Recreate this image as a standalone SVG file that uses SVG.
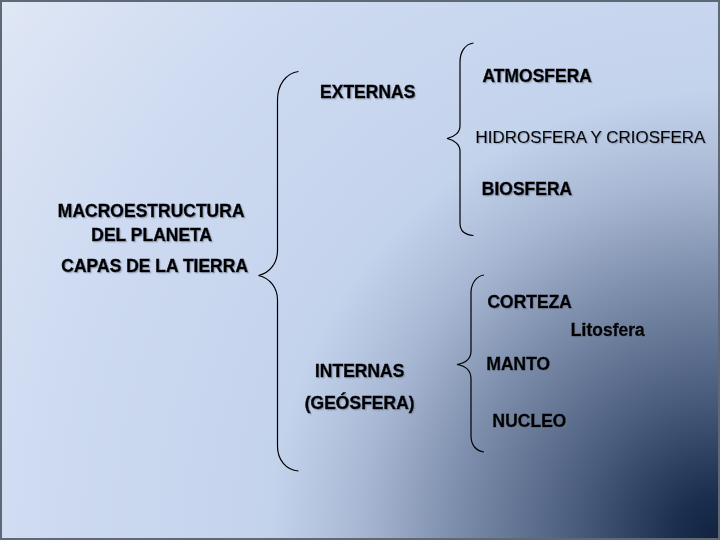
<svg xmlns="http://www.w3.org/2000/svg" width="720" height="540" viewBox="0 0 720 540">
  <defs>
    <radialGradient id="bg" gradientUnits="userSpaceOnUse" cx="720" cy="540" r="900">
      <stop offset="0" stop-color="#10223f"/>
      <stop offset="0.05" stop-color="#1c2e4e"/>
      <stop offset="0.16" stop-color="#4a5c7c"/>
      <stop offset="0.3" stop-color="#7f90ae"/>
      <stop offset="0.4" stop-color="#a8b8d4"/>
      <stop offset="0.5" stop-color="#c4d3ec"/>
      <stop offset="0.75" stop-color="#cddaf1"/>
      <stop offset="1" stop-color="#e0e7f5"/>
    </radialGradient>
    <filter id="sh" x="-10%" y="-30%" width="120%" height="160%">
      <feDropShadow dx="1.2" dy="1.2" stdDeviation="0.6" flood-color="#6d7a90" flood-opacity="0.5"/>
    </filter>
  </defs>
  <style>
    .t { font-family: "Liberation Sans", Arial, sans-serif; font-size: 17.5px; font-weight: bold; fill: #000; stroke: #000; stroke-width: 0.45; text-anchor: middle; filter: url(#sh); }
    .r { font-weight: normal; font-size: 17px; stroke-width: 0.2; }
    .brace { fill: none; stroke: #000; stroke-width: 1.2; }
  </style>
  <rect x="0" y="0" width="720" height="540" fill="url(#bg)"/>
  <rect x="1" y="1" width="718" height="538" fill="none" stroke="#5f6876" stroke-width="2"/>

  <g id="connectors">
    <path class="brace" d="M298.5,71.5 C286,73 277.5,85 277.5,100 L277.5,250 C277.5,263 270,273 258.5,275.5 C270,278 277.5,288 277.5,300 L277.5,446 C277.5,460 286,470 298.5,471"/>
    <path class="brace" d="M473.5,43 C465,44 460,52 460,62 L460,126 C460,132 455,137 447,138.5 C455,140 460,145 460,151 L460,223 C460,231 465,235 473.5,235.5"/>
    <path class="brace" d="M484,275 C476,276 471,284 471,293 L471,351 C471,358 466,363 457,364.5 C466,366 471,371 471,379 L471,436 C471,445 476,451 484,452"/>
  </g>

  <g id="root">
    <text class="t" x="151.2" y="217.3">MACROESTRUCTURA</text>
    <text class="t" x="151.7" y="241">DEL PLANETA</text>
    <text class="t" x="154.7" y="271.7">CAPAS DE LA TIERRA</text>
  </g>
  <g id="externas">
    <text class="t" x="367.7" y="98.3">EXTERNAS</text>
  </g>
  <g id="atmosfera">
    <text class="t" x="537.2" y="81.6">ATMOSFERA</text>
  </g>
  <g id="hidrosfera">
    <text class="t r" x="590.5" y="142.6">HIDROSFERA Y CRIOSFERA</text>
  </g>
  <g id="biosfera">
    <text class="t" x="527" y="195">BIOSFERA</text>
  </g>
  <g id="internas">
    <text class="t" x="359.7" y="376.7">INTERNAS</text>
    <text class="t" x="359.7" y="409">(GEÓSFERA)</text>
  </g>
  <g id="corteza">
    <text class="t" x="529.7" y="307.7">CORTEZA</text>
  </g>
  <g id="litosfera">
    <text class="t" x="607.8" y="336">Litosfera</text>
  </g>
  <g id="manto">
    <text class="t" x="518.3" y="370">MANTO</text>
  </g>
  <g id="nucleo">
    <text class="t" x="529.5" y="426.7">NUCLEO</text>
  </g>
</svg>
